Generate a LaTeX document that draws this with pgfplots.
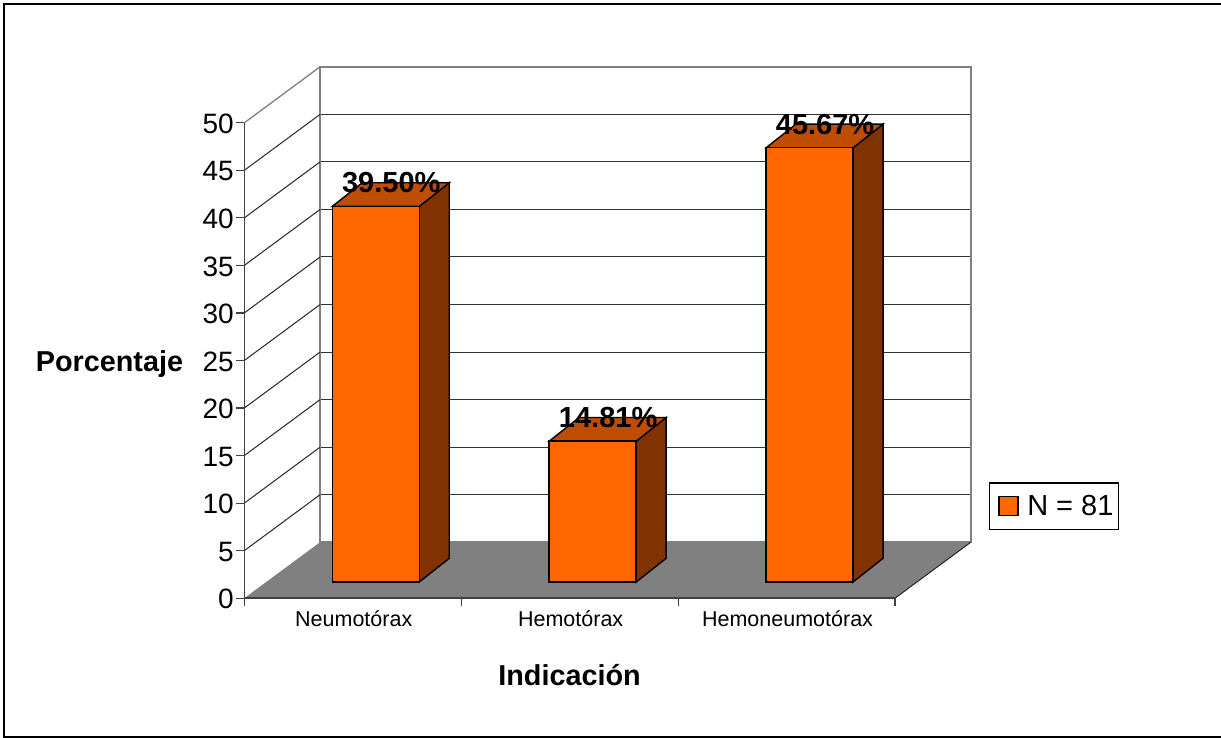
\documentclass[border=0pt]{standalone}
\usepackage{fontspec}
\setmainfont{Liberation Sans}
\usepackage{pgfplots}
\pgfplotsset{compat=1.18}

\definecolor{barfront}{HTML}{FF6600}
\definecolor{bartop}{HTML}{BF4D00}
\definecolor{barside}{HTML}{803300}
\definecolor{wallgray}{HTML}{808080}
\definecolor{axisdark}{HTML}{404040}

\newcommand{\sz}[1]{\fontsize{#1bp}{#1bp}\selectfont}

\begin{document}
\begin{tikzpicture}
\useasboundingbox (0,0) rectangle (1221bp,738bp);
\draw[line width=2bp,black,fill=white] (3.5bp,0.8bp) rectangle (1225bp,733.5bp);

% Back wall of the 3D chart, with the horizontal grid
\begin{axis}[
  at={(320bp,195.8bp)}, anchor=south west,
  scale only axis, width=650.7bp, height=475.4bp,
  xmin=0, xmax=3, ymin=0, ymax=50,
  xtick=\empty, ytick={5,10,...,45},
  yticklabels={}, major tick length=0pt,
  ymajorgrids,
  grid style={line width=1bp,color=black!80},
  axis line style={line width=1.6bp,color=wallgray},
]
\end{axis}

% Front axes: floor, side wall, ticks and titles
\begin{axis}[
  at={(244.3bp,139.8bp)}, anchor=south west,
  scale only axis, width=650.7bp, height=475.4bp,
  clip=false, axis on top,
  xmin=0, xmax=3, ymin=0, ymax=50,
  axis x line*=bottom, axis y line*=left,
  axis line style={line width=1.4bp,color=axisdark},
  tick style={line width=1.2bp,color=axisdark},
  tick align=outside, major tick length=8bp,
  ytick={0,5,...,50},
  xtick={0,1,2,3}, xticklabels={},
  extra x ticks={0.5,1.5,2.5},
  extra x tick labels={Neumotórax,Hemotórax,Hemoneumotórax},
  extra x tick style={major tick length=0pt,
    xticklabel style={font=\sz{21.5},yshift=-9bp,xshift=1bp}},
  /pgf/number format/assume math mode=true,
  yticklabel style={font=\sz{28},xshift=1bp,yshift=-1bp},
  xlabel={Indicación}, ylabel={Porcentaje},
  xlabel style={font=\bfseries\sz{28.8},at={(axis description cs:0.4998,-0.1626)},anchor=center},
  ylabel style={font=\bfseries\sz{28.8},rotate=-90,at={(axis description cs:-0.2072,0.4916)},anchor=center},
]
% floor
\addplot[fill=wallgray,draw=none] coordinates {(0,0) (3,0) (3.349,5.88) (0.349,5.88)} -- cycle;
\addplot[line width=1bp,black!85] coordinates {(3,0) (3.349,5.88)};
% side wall
\addplot[line width=1.3bp,wallgray] coordinates {(0,50) (0.349,55.88)};
\addplot[line width=1bp,black!85] coordinates {(0,5) (0.349,10.88)};
\addplot[line width=1bp,black!85] coordinates {(0,10) (0.349,15.88)};
\addplot[line width=1bp,black!85] coordinates {(0,15) (0.349,20.88)};
\addplot[line width=1bp,black!85] coordinates {(0,20) (0.349,25.88)};
\addplot[line width=1bp,black!85] coordinates {(0,25) (0.349,30.88)};
\addplot[line width=1bp,black!85] coordinates {(0,30) (0.349,35.88)};
\addplot[line width=1bp,black!85] coordinates {(0,35) (0.349,40.88)};
\addplot[line width=1bp,black!85] coordinates {(0,40) (0.349,45.88)};
\addplot[line width=1bp,black!85] coordinates {(0,45) (0.349,50.88)};
\end{axis}

% Bars standing on the floor
\begin{axis}[
  at={(267.3bp,156bp)}, anchor=south west,
  scale only axis, width=650.7bp, height=475.4bp,
  clip=false, hide axis,
  xmin=0, xmax=3, ymin=0, ymax=50,
  legend style={at={(1.1086,0.2097)},anchor=north west,
    draw=black,line width=1.2bp,fill=white,
    font=\sz{29},inner xsep=3bp,inner ysep=10.5bp},
  legend cell align=left,
]
% side and top faces of each bar
\addplot[fill=barside,draw=black,line width=1.4bp,forget plot] coordinates {(0.7006,0) (0.8389,2.49) (0.8389,41.99) (0.7006,39.5)} -- cycle;
\addplot[fill=bartop,draw=black,line width=1.4bp,forget plot] coordinates {(0.2994,39.5) (0.7006,39.5) (0.8389,41.99) (0.4377,41.99)} -- cycle;
\addplot[fill=barside,draw=black,line width=1.4bp,forget plot] coordinates {(1.7006,0) (1.8389,2.49) (1.8389,17.30) (1.7006,14.81)} -- cycle;
\addplot[fill=bartop,draw=black,line width=1.4bp,forget plot] coordinates {(1.2994,14.81) (1.7006,14.81) (1.8389,17.30) (1.4377,17.30)} -- cycle;
\addplot[fill=barside,draw=black,line width=1.4bp,forget plot] coordinates {(2.7006,0) (2.8389,2.49) (2.8389,48.16) (2.7006,45.67)} -- cycle;
\addplot[fill=bartop,draw=black,line width=1.4bp,forget plot] coordinates {(2.2994,45.67) (2.7006,45.67) (2.8389,48.16) (2.4377,48.16)} -- cycle;
% front faces with their value labels
\addplot[ybar,bar width=87bp,bar shift=0pt,fill=barfront,draw=black,line width=1.4bp,
  legend image code/.code={\draw[draw=none,fill=none] (0bp,0bp) -- (33bp,0bp);\draw[fill=barfront,draw=black,line width=1.4bp] (6.6bp,-9.5bp) rectangle (25.6bp,9.5bp);},
  nodes near coords={\pgfmathprintnumber[fixed,fixed zerofill,precision=2,assume math mode=true]{\pgfplotspointmeta}\%},
  nodes near coords style={font=\bfseries\sz{29},anchor=base,xshift=15.5bp,yshift=13.5bp,text=black,inner sep=0pt},
] coordinates {(0.5,39.5) (1.5,14.81) (2.5,45.67)};
\addlegendentry{N = 81}
\end{axis}
\end{tikzpicture}
\end{document}
